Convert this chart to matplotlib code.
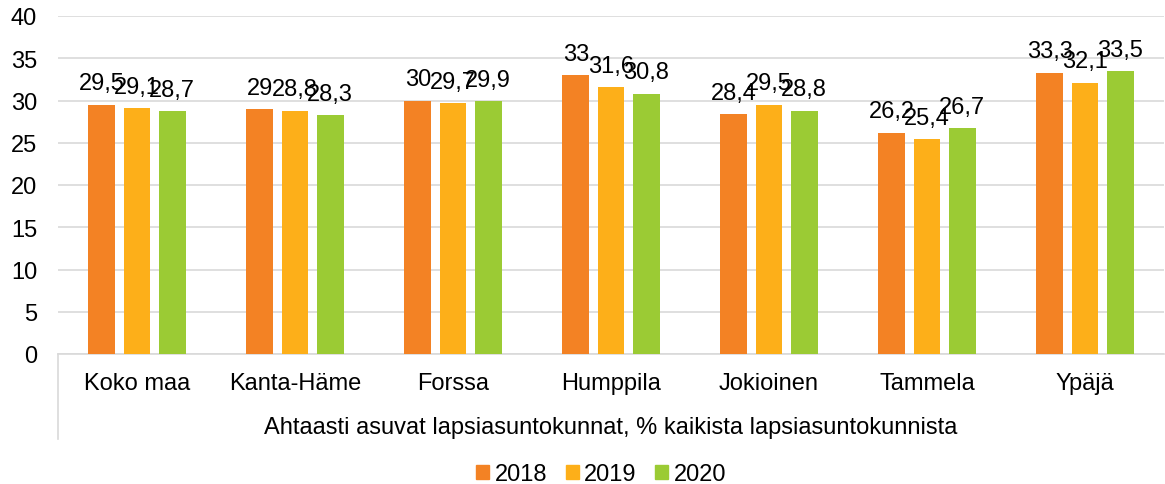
import numpy as np
import matplotlib.pyplot as plt
from matplotlib.patches import Patch

plt.rcParams['font.family'] = ['Liberation Sans', 'DejaVu Sans']

categories = ["Koko maa", "Kanta-Häme", "Forssa", "Humppila", "Jokioinen", "Tammela", "Ypäjä"]
years = ["2018", "2019", "2020"]
v2018 = [29.5, 29.0, 30.0, 33.0, 28.4, 26.2, 33.3]
v2019 = [29.1, 28.8, 29.7, 31.6, 29.5, 25.4, 32.1]
v2020 = [28.7, 28.3, 29.9, 30.8, 28.8, 26.7, 33.5]
group_title = "Ahtaasti asuvat lapsiasuntokunnat, % kaikista lapsiasuntokunnista"

colors = ["#F38224", "#FDAF19", "#9BCB34"]
fs = 17

fig = plt.figure(figsize=(11.65, 4.85), dpi=100)
ax = fig.add_axes([58 / 1165, 1 - 355 / 485, 1106 / 1165, 338 / 485])

x = np.arange(len(categories))
width = 0.17
offsets = [-0.222, 0, 0.222]
for vals, off, c, yr in zip([v2018, v2019, v2020], offsets, colors, years):
    bars = ax.bar(x + off, vals, width, color=c, label=yr, zorder=3)
    for b, v in zip(bars, vals):
        lbl = f"{v:g}".replace(".", ",")
        ax.annotate(lbl, (b.get_x() + b.get_width() / 2, v), xytext=(0, 11),
                    textcoords="offset points", ha="center", va="baseline",
                    fontsize=fs, zorder=4)

ax.set_xlim(-0.5, len(categories) - 0.5)
ax.set_ylim(0, 40)
ax.set_yticks(range(0, 41, 5))
ax.yaxis.grid(True, color="#D9D9D9", linewidth=1.2)
ax.set_axisbelow(True)
for s in ["top", "right", "left"]:
    ax.spines[s].set_visible(False)
ax.spines["bottom"].set_color("#D9D9D9")
ax.spines["bottom"].set_linewidth(1.2)
ax.tick_params(axis="y", length=0, pad=15, labelsize=fs)
ax.set_xticks(x)
ax.set_xticklabels(categories)
ax.tick_params(axis="x", length=0, pad=13, labelsize=fs)

# multi-level category axis: left border line and group title
ax.plot([0, 0], [0, -0.251], transform=ax.transAxes, color="#D9D9D9",
        linewidth=1.2, clip_on=False)
ax.text(0.5, -0.216, group_title, transform=ax.transAxes, ha="center",
        va="center", fontsize=fs)

handles = [Patch(color=c, label=yr) for c, yr in zip(colors, years)]
fig.legend(handles=handles, loc="center", bbox_to_anchor=(0.516, 1 - 475 / 485),
           ncol=3, frameon=False, fontsize=fs, handlelength=0.55, handleheight=0.55,
           handletextpad=0.22, columnspacing=0.8, borderpad=0)

fig.savefig("out.png", dpi=100)
